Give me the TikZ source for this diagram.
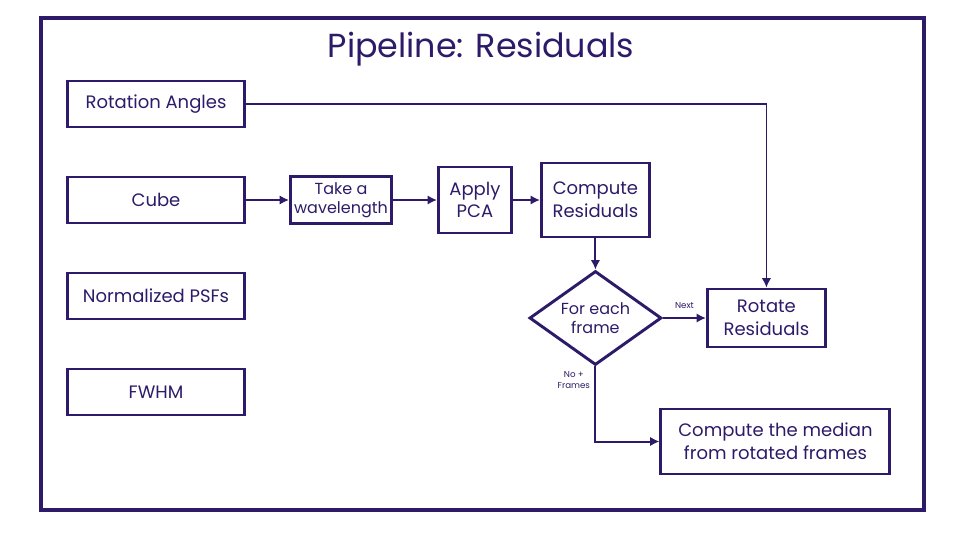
\documentclass[tikz,border=0pt]{standalone}
\usepackage{fontspec}
\setmainfont{Poppins}
\usetikzlibrary{positioning,arrows.meta,shapes.geometric}
\definecolor{pipeink}{RGB}{45,27,105}

\begin{document}
\begin{tikzpicture}[x=0.75pt,y=-0.75pt,
  box/.style={rectangle, draw=pipeink, line width=2.2pt, text=pipeink, align=center, inner sep=2pt, font=\fontsize{13.5}{17}\selectfont},
  inbox/.style={box, minimum width=132.75pt, minimum height=34.5pt},
  flow/.style={draw=pipeink, line width=1.5pt, -{Latex[length=7pt,width=7pt]}},
  tag/.style={text=pipeink, font=\fontsize{6.5}{8}\selectfont, align=center}]
\useasboundingbox (0,0) rectangle (960,540);
% outer frame and title
\draw[pipeink, line width=2.3pt] (41,18) rectangle (924,510);
\node (title) at (481,49) [text=pipeink, font=\fontsize{25}{30}\selectfont] {Pipeline: Residuals};

% inputs on the left
\node (angles) at (156,104) [inbox] {Rotation Angles};
\node (cube) [inbox, below=35.3pt of angles] {Cube};
\node (psfs) [inbox, below=35.3pt of cube] {Normalized PSFs};
\node (fwhm) [inbox, below=35.3pt of psfs] {FWHM};

% processing chain
\node (wave) [box, right=32.3pt of cube, minimum width=75.75pt, minimum height=35.25pt, font=\fontsize{12}{14.25}\selectfont] {Take a\\wavelength};
\node (pca) [box, right=33pt of wave, minimum width=54.75pt, minimum height=49.5pt] {Apply\\PCA};
\node (resid) [box, right=20.3pt of pca, minimum width=81pt, minimum height=55.5pt] {Compute\\Residuals};
\node (each) [diamond, aspect=1.4, draw=pipeink, line width=2.2pt, text=pipeink, align=center, inner sep=0pt, minimum width=99pt, minimum height=70.5pt, below=23.3pt of resid, font=\fontsize{12}{14.25}\selectfont] {For each\\frame};
\node (rotate) [box, right=32.3pt of each, minimum width=88.5pt, minimum height=43.5pt] {Rotate\\Residuals};
\node (median) [box, below=44.3pt of rotate, xshift=6.75pt, minimum width=171.75pt, minimum height=48.75pt] {Compute the median\\from rotated frames};

% connectors
\draw[flow] (cube) -- (wave);
\draw[flow] (wave) -- (pca);
\draw[flow] (pca) -- (resid);
\draw[flow] (resid) -- (each);
\draw[flow] (each) -- node[tag, above=3pt] {Next} (rotate);
\draw[flow, line width=1.1pt] (angles) -| (rotate);
\draw[flow] (each.south) |- node[tag, left, pos=0.09] {No +\\Frames} (median);
\end{tikzpicture}
\end{document}
